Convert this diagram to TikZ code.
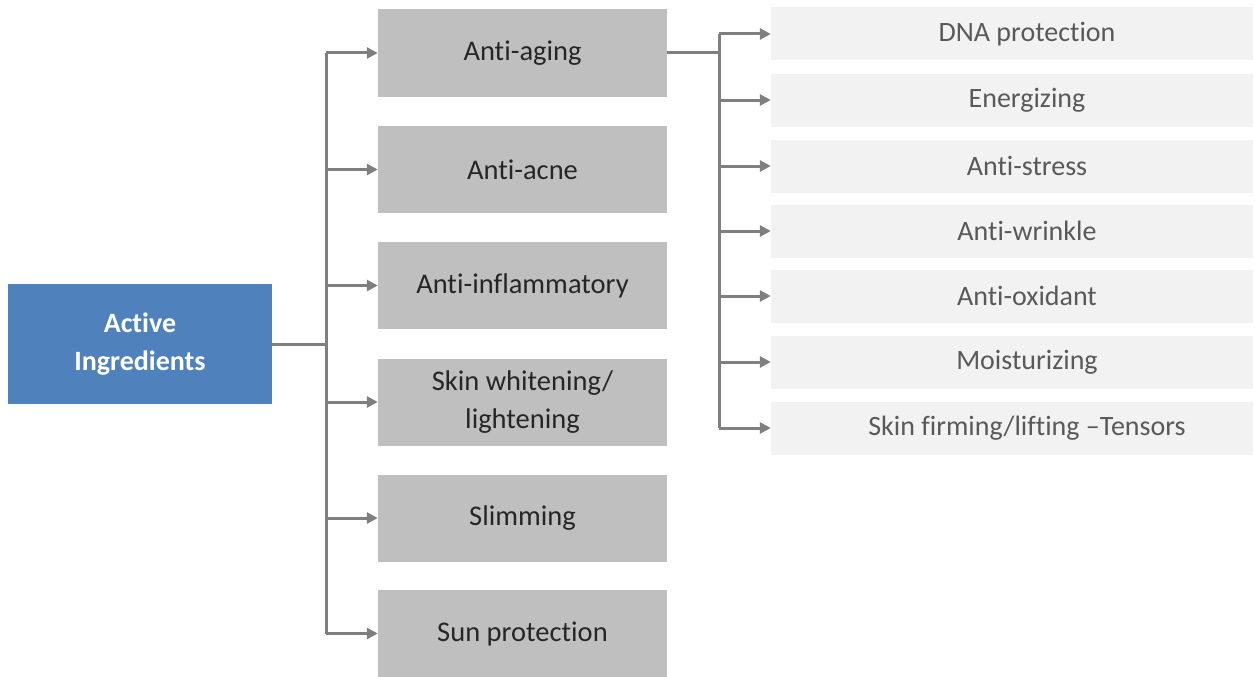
\documentclass[tikz,border=0pt]{standalone}
\usepackage{fontspec}
\setmainfont{Carlito}[RawFeature={-liga;-clig;-calt;-dlig}]
\usetikzlibrary{arrows.meta}
\definecolor{bluebox}{HTML}{4F81BD}
\definecolor{graybox}{HTML}{BFBFBF}
\definecolor{lightbox}{HTML}{F2F2F2}
\definecolor{linegray}{HTML}{7F7F7F}
\definecolor{lighttext}{HTML}{595959}
\begin{document}
\begin{tikzpicture}[x=1pt,y=-1pt,
  rootbox/.style={fill=bluebox, text=white, font=\fontsize{28}{38}\selectfont\bfseries, minimum width=264pt, minimum height=120pt, align=center, inner sep=0pt},
  catbox/.style={fill=graybox, text=black!85, font=\fontsize{28.5}{38}\selectfont, minimum width=289pt, minimum height=87pt, align=center, inner sep=0pt},
  subbox/.style={fill=lightbox, text=lighttext, font=\fontsize{28}{34}\selectfont, minimum width=482pt, minimum height=53pt, align=center, inner sep=0pt, execute at begin node=\hspace*{30pt}},
  conn/.style={draw=linegray, line width=3pt},
  arr/.style={conn, -{Triangle[length=11pt,width=11pt]}}
]
\useasboundingbox (0,0) rectangle (1255,677);
\node[rootbox] (root) at (140,344) {Active\\Ingredients};
\node[catbox] (c1) at (522.5,53) {Anti-aging};
\node[catbox] (c2) at (522.5,169.5) {Anti-acne};
\node[catbox] (c3) at (522.5,285.5) {Anti-inflammatory};
\node[catbox] (c4) at (522.5,402) {Skin whitening/\\lightening};
\node[catbox] (c5) at (522.5,518) {Slimming};
\node[catbox] (c6) at (522.5,633.5) {Sun protection};
\node[subbox] (s1) at (1012,34) {DNA protection};
\node[subbox] (s2) at (1012,100) {Energizing};
\node[subbox] (s3) at (1012,166) {Anti-stress};
\node[subbox] (s4) at (1012,231) {Anti-wrinkle};
\node[subbox] (s5) at (1012,296) {Anti-oxidant};
\node[subbox] (s6) at (1012,362) {Moisturizing};
\node[subbox] (s7) at (1012,428) {Skin firming/lifting --Tensors};
\coordinate (j1) at (326,344);
\coordinate (j2) at (719,53);
\draw[conn] (root.east) -- (j1);
\draw[conn] (j1 |- c1.west) -- (j1 |- c6.west);
\foreach \c in {c1,c2,c3,c4,c5,c6}
  \draw[arr] (j1 |- \c.west) -- (\c.west);
\draw[conn] (c1.east) -- (j2);
\draw[conn] (j2 |- s1.west) -- (j2 |- s7.west);
\foreach \s in {s1,s2,s3,s4,s5,s6,s7}
  \draw[arr] (j2 |- \s.west) -- (\s.west);
\end{tikzpicture}
\end{document}
